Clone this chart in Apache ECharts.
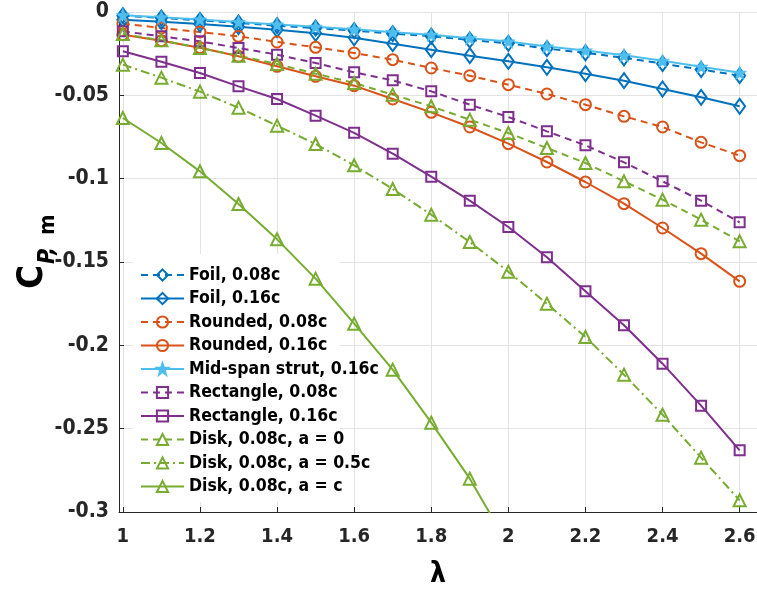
<!DOCTYPE html>
<html>
<head>
<meta charset="utf-8">
<script src="https://cdn.jsdelivr.net/npm/echarts@6/dist/echarts.min.js"></script>
<style>html,body{margin:0;padding:0;background:#fff}#c{width:757px;height:591px}</style>
</head>
<body>
<div id="c"></div>
<script>
// ---- data ----
const lambda = [1.0,1.1,1.2,1.3,1.4,1.5,1.6,1.7,1.8,1.9,2.0,2.1,2.2,2.3,2.4,2.5,2.6];
const xTicks = [1,1.2,1.4,1.6,1.8,2,2.2,2.4,2.6];
const seriesNames = ['Foil, 0.08c','Foil, 0.16c','Rounded, 0.08c','Rounded, 0.16c','Mid-span strut, 0.16c','Rectangle, 0.08c','Rectangle, 0.16c','Disk, 0.08c, a = 0','Disk, 0.08c, a = 0.5c','Disk, 0.08c, a = c'];
const foil008 = [-0.0022,-0.0036,-0.0050,-0.0066,-0.0082,-0.0096,-0.0112,-0.0130,-0.0145,-0.0168,-0.0188,-0.0220,-0.0245,-0.0275,-0.0310,-0.0345,-0.0382];
const foil016 = [-0.0046,-0.0058,-0.0072,-0.0088,-0.0106,-0.0128,-0.0155,-0.0190,-0.0226,-0.0262,-0.0296,-0.0332,-0.0370,-0.0412,-0.0462,-0.0512,-0.0566];
const round008 = [-0.0070,-0.0096,-0.0120,-0.0146,-0.0180,-0.0212,-0.0246,-0.0286,-0.0336,-0.0382,-0.0436,-0.0492,-0.0556,-0.0626,-0.0690,-0.0782,-0.0862];
const round016 = [-0.0136,-0.0172,-0.0214,-0.0266,-0.0326,-0.0386,-0.0442,-0.0522,-0.0602,-0.0690,-0.0790,-0.0900,-0.1020,-0.1150,-0.1296,-0.1450,-0.1616];
const strut016 = [-0.0019,-0.0032,-0.0045,-0.0060,-0.0075,-0.0089,-0.0104,-0.0121,-0.0136,-0.0157,-0.0177,-0.0207,-0.0231,-0.0260,-0.0293,-0.0328,-0.0365];
const rect008 = [-0.0116,-0.0146,-0.0176,-0.0216,-0.0256,-0.0306,-0.0362,-0.0410,-0.0476,-0.0556,-0.0630,-0.0716,-0.0800,-0.0902,-0.1016,-0.1132,-0.1262];
const rect016 = [-0.0236,-0.0298,-0.0366,-0.0446,-0.0522,-0.0622,-0.0725,-0.0850,-0.0988,-0.1132,-0.1290,-0.1472,-0.1676,-0.1880,-0.2110,-0.2362,-0.2630];
const disk0 = [-0.0132,-0.0170,-0.0216,-0.0262,-0.0312,-0.0370,-0.0426,-0.0496,-0.0566,-0.0646,-0.0726,-0.0816,-0.0906,-0.1016,-0.1126,-0.1246,-0.1376];
const disk05 = [-0.0316,-0.0394,-0.0478,-0.0574,-0.0682,-0.0792,-0.0920,-0.1062,-0.1216,-0.1380,-0.1558,-0.1750,-0.1950,-0.2176,-0.2416,-0.2674,-0.2930];
const diskc = [-0.0636,-0.0786,-0.0956,-0.1152,-0.1364,-0.1600,-0.1870,-0.2146,-0.2464,-0.2800,-0.3200,null,null,null,null,null,null];

// ---- styles ----
const FONT = '"DejaVu Sans Condensed","DejaVu Sans","Liberation Sans",sans-serif';
const BLUE='#0072BD', ORANGE='#D95319', PURPLE='#7E2F8E', GREEN='#77AC30', LBLUE='#4DBEEE';
const DIAMOND='path://M0,-10L7.5,0L0,10L-7.5,0Z';
const STAR='path://M0,-10L2.35,-3.24L9.51,-3.09L3.8,1.24L5.88,8.09L0,4L-5.88,8.09L-3.8,1.24L-9.51,-3.09L-2.35,-3.24Z';
const DASH=[7,5], DASHDOT=[9,4,2,4];

function mk(name, vals, color, lineType, symbol, size, filled) {
  return {
    name: name, type: 'line', z: 3,
    data: lambda.map((x,i)=>[x, vals[i]]),
    symbol: symbol, symbolSize: size, showAllSymbol: true,
    clip: true, connectNulls: false,
    lineStyle: {color: color, width: 2, type: lineType},
    itemStyle: {color: filled ? color : 'rgba(255,255,255,0)', borderColor: color, borderWidth: filled ? 0.5 : 2},
    emphasis: {disabled: true},
    animation: false
  };
}

const series = [
  mk(seriesNames[0], foil008, BLUE, DASH, DIAMOND, [11,15], false),
  mk(seriesNames[1], foil016, BLUE, 'solid', DIAMOND, [11,15], false),
  mk(seriesNames[2], round008, ORANGE, DASH, 'circle', 11, false),
  mk(seriesNames[3], round016, ORANGE, 'solid', 'circle', 11, false),
  mk(seriesNames[4], strut016, LBLUE, 'solid', STAR, 14, true),
  mk(seriesNames[5], rect008, PURPLE, DASH, 'rect', 10, false),
  mk(seriesNames[6], rect016, PURPLE, 'solid', 'rect', 10, false),
  mk(seriesNames[7], disk0, GREEN, DASH, 'triangle', 12, false),
  mk(seriesNames[8], disk05, GREEN, DASHDOT, 'triangle', 12, false),
  mk(seriesNames[9], diskc, GREEN, 'solid', 'triangle', 12, false)
];

const chart = echarts.init(document.getElementById('c'), null, {renderer: 'canvas'});
chart.setOption({
  animation: false,
  backgroundColor: '#fff',
  grid: {left: 119, right: 0, top: 12, bottom: 79, containLabel: false, outerBoundsMode: 'none'},
  graphic: [{
    type: 'rect', z: 1, silent: true,
    shape: {x: 133, y: 254, width: 207, height: 248},
    style: {fill: '#fff'}
  }],
  xAxis: {
    type: 'value', min: 0.99, max: 2.645,
    name: 'λ', nameLocation: 'middle', nameGap: 49, nameMoveOverlap: false,
    nameTextStyle: {fontFamily: FONT, fontWeight: 'bold', fontSize: 28, color: '#000'},
    axisLine: {show: true, onZero: false, lineStyle: {color: '#262626', width: 1}},
    axisTick: {show: true, inside: true, length: 5, customValues: xTicks, lineStyle: {color: '#262626'}},
    axisLabel: {customValues: xTicks, margin: 15, fontFamily: FONT, fontWeight: 'bold', fontSize: 20, color: '#262626',
      formatter: v => String(Math.round(v*10)/10)},
    splitLine: {show: true, lineStyle: {color: '#e3e3e3', width: 1}}
  },
  yAxis: {
    type: 'value', min: -0.3, max: 0, interval: 0.05,
    name: '{c|C}{s|P,}{m|m}', nameLocation: 'middle', nameGap: 74, nameMoveOverlap: false,
    nameTextStyle: {
      rich: {
        c: {fontFamily: FONT, fontWeight: 'bold', fontSize: 36, lineHeight: 30, verticalAlign: 'top', color: '#000', padding: [0,0,0,21]},
        s: {fontFamily: FONT, fontWeight: 'bold', fontStyle: 'italic', fontSize: 23, lineHeight: 20, verticalAlign: 'top', color: '#000', padding: [22,0,0,1]},
        m: {fontFamily: FONT, fontWeight: 'bold', fontSize: 22, lineHeight: 20, verticalAlign: 'top', color: '#000', padding: [22,0,0,12]}
      }
    },
    axisLine: {show: true, onZero: false, lineStyle: {color: '#262626', width: 1}},
    axisTick: {show: true, inside: true, length: 5, lineStyle: {color: '#262626'}},
    axisLabel: {margin: 10, fontFamily: FONT, fontWeight: 'bold', fontSize: 21, color: '#262626'},
    splitLine: {show: true, lineStyle: {color: '#e3e3e3', width: 1}}
  },
  legend: {
    orient: 'vertical', left: 133, top: 252,
    padding: [14, 0, 0, 7],
    backgroundColor: 'transparent',
    itemWidth: 43, itemHeight: 14, itemGap: 5.5,
    textStyle: {fontFamily: FONT, fontWeight: 'bold', fontSize: 17.5, color: '#000'},
    data: seriesNames,
    selectedMode: false
  },
  series: series
});
</script>
</body>
</html>
